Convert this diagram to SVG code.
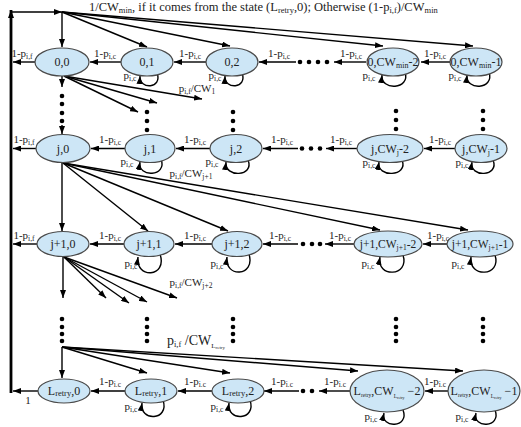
<svg xmlns="http://www.w3.org/2000/svg" width="521" height="427" viewBox="0 0 521 427">
<defs>
<marker id="a" viewBox="0 0 8 6" refX="8" refY="3" markerWidth="8" markerHeight="6" markerUnits="userSpaceOnUse" orient="auto"><path d="M0,0 L8,3 L0,6 z" fill="#000"/></marker>
<style>
.n{fill:#cde6f6;stroke:#4a4a4a;stroke-width:1.2}
.t{font-family:"Liberation Serif",serif;font-size:12px;fill:#222;text-anchor:middle}
.l{font-family:"Liberation Serif",serif;font-size:11px;fill:#222;text-anchor:middle}
.e{fill:none;stroke:#000;stroke-width:1.4;marker-end:url(#a)}
.s{fill:none;stroke:#000;stroke-width:1.4;marker-end:url(#a)}
.d{fill:#000}
</style>
</defs>
<rect width="521" height="427" fill="#fff"/>
<text class="l" x="89" y="11" style="text-anchor:start;font-size:12.5px">1/CW<tspan font-size="8.5" dy="2">min</tspan><tspan dy="-2">, if it comes from the state (L</tspan><tspan font-size="8.5" dy="2">retry</tspan><tspan dy="-2">,0); Otherwise (1-p</tspan><tspan font-size="8.5" dy="2">i,f</tspan><tspan dy="-2">)/CW</tspan><tspan font-size="8.5" dy="2">min</tspan></text>

<g id="connectors">
<path d="M11,393 L11,10" fill="none" stroke="#000" stroke-width="2.8" marker-end="url(#a)"/>
<path class="e" d="M11,12 L62,12"/>
<path class="e" d="M62,12 L62,47"/>
<path class="e" d="M62,12 L147,47"/>
<path class="e" d="M62,12 L230,46"/>
<path class="e" d="M62,12 L383,46"/>
<path class="e" d="M62,12 L473,46"/>
<path class="e" d="M35,62 L13,62"/>
<path class="e" d="M121,62 L90,62"/>
<path class="e" d="M206,62 L174,62"/>
<path class="e" d="M296,62 L259,62"/>
<path class="e" d="M366,62 L334,62"/>
<path class="e" d="M450,62 L421,62"/>
<path class="s" d="M157,73 C163,89 139,90 140,76"/>
<path class="s" d="M242,73 C248,89 224,90 225,76"/>
<path class="s" d="M405,72 C411,90 380,91 382,75"/>
<path class="s" d="M489,72 C495,90 465,91 467,75"/>
<path class="e" d="M62,76 L62,87"/>
<path class="e" d="M62,125 L62,134"/>
<path class="e" d="M64,76 L138,112"/>
<path class="e" d="M64,76 L157,103"/>
<path class="e" d="M64,76 L202,99"/>
<path class="e" d="M36,148.5 L13,148.5"/>
<path class="e" d="M125,148.5 L91,148.5"/>
<path class="e" d="M210,148.5 L176,148.5"/>
<path class="e" d="M298,148.5 L263,148.5"/>
<path class="e" d="M357,148.5 L326,148.5"/>
<path class="e" d="M455,148.5 L424,148.5"/>
<path class="s" d="M161,159 C168,177 137,178 140,162"/>
<path class="s" d="M248,160 C255,177 224,178 226,162"/>
<path class="s" d="M402,160 C409,177 376,178 379,162"/>
<path class="s" d="M493,160 C500,177 469,178 472,162"/>
<path class="e" d="M62,163 L62,231"/>
<path class="e" d="M63,163 L148,231"/>
<path class="e" d="M63,163 L228,231"/>
<path class="e" d="M63,163 L380,230"/>
<path class="e" d="M63,163 L468,230"/>
<path class="e" d="M37,244 L13,244"/>
<path class="e" d="M124,244 L90,244"/>
<path class="e" d="M212,244 L175,244"/>
<path class="e" d="M298,244 L263,244"/>
<path class="e" d="M354,244 L325,244"/>
<path class="e" d="M447,244 L423,244"/>
<path class="s" d="M160,254 C168,278 135,279 138,257"/>
<path class="s" d="M249,254 C256,277 224,278 227,257"/>
<path class="s" d="M403,255 C410,277 376,278 380,257"/>
<path class="s" d="M495,255 C502,277 468,278 471,257"/>
<path class="e" d="M63,257 L63,298"/>
<path class="e" d="M64,257 L106,298"/>
<path class="e" d="M64,257 L129,303"/>
<path class="e" d="M64,257 L147,302"/>
<path class="e" d="M64,257 L177,298"/>
<path class="e" d="M62,347 L62,378"/>
<path class="e" d="M62,347 L147,373"/>
<path class="e" d="M62,347 L230,373"/>
<path class="e" d="M62,347 L358,371"/>
<path class="e" d="M62,347 L463,371"/>
<path class="e" d="M38,391 L13,391"/>
<path class="e" d="M125,391 L91,391"/>
<path class="e" d="M212,391 L178,391"/>
<path class="e" d="M299,391 L264,391"/>
<path class="e" d="M350,391 L319,391"/>
<path class="e" d="M448,391 L425,391"/>
<path class="s" d="M163,400 C170,421 139,422 142,403"/>
<path class="s" d="M250,400 C257,421 226,422 229,403"/>
<path class="s" d="M403,410 C410,428 380,429 384,413"/>
<path class="s" d="M495,410 C502,428 472,429 476,413"/>
</g>

<g id="dots">
<circle class="d" cx="300" cy="62" r="2.3"/><circle class="d" cx="309" cy="62" r="2.3"/><circle class="d" cx="318" cy="62" r="2.3"/><circle class="d" cx="327" cy="62" r="2.3"/>
<circle class="d" cx="62" cy="96" r="2.3"/><circle class="d" cx="62" cy="104" r="2.3"/><circle class="d" cx="62" cy="113" r="2.3"/><circle class="d" cx="62" cy="121" r="2.3"/>
<circle class="d" cx="147" cy="112" r="2.3"/><circle class="d" cx="147" cy="121" r="2.3"/><circle class="d" cx="147" cy="130" r="2.3"/>
<circle class="d" cx="233" cy="112" r="2.3"/><circle class="d" cx="233" cy="121" r="2.3"/><circle class="d" cx="233" cy="130" r="2.3"/>
<circle class="d" cx="396" cy="111" r="2.3"/><circle class="d" cx="396" cy="120" r="2.3"/><circle class="d" cx="396" cy="129" r="2.3"/>
<circle class="d" cx="483" cy="111" r="2.3"/><circle class="d" cx="483" cy="120" r="2.3"/><circle class="d" cx="483" cy="129" r="2.3"/>
<circle class="d" cx="302" cy="148.5" r="2.3"/><circle class="d" cx="311" cy="148.5" r="2.3"/><circle class="d" cx="320" cy="148.5" r="2.3"/>
<circle class="d" cx="303" cy="244" r="2.3"/><circle class="d" cx="312" cy="244" r="2.3"/><circle class="d" cx="320" cy="244" r="2.3"/>
<circle class="d" cx="62" cy="319" r="2.3"/><circle class="d" cx="62" cy="327" r="2.3"/><circle class="d" cx="62" cy="334" r="2.3"/><circle class="d" cx="62" cy="341" r="2.3"/>
<circle class="d" cx="147" cy="319" r="2.3"/><circle class="d" cx="147" cy="327" r="2.3"/><circle class="d" cx="147" cy="334" r="2.3"/><circle class="d" cx="147" cy="341" r="2.3"/>
<circle class="d" cx="233" cy="319" r="2.3"/><circle class="d" cx="233" cy="327" r="2.3"/><circle class="d" cx="233" cy="334" r="2.3"/><circle class="d" cx="233" cy="341" r="2.3"/>
<circle class="d" cx="396" cy="319" r="2.3"/><circle class="d" cx="396" cy="327" r="2.3"/><circle class="d" cx="396" cy="334" r="2.3"/><circle class="d" cx="396" cy="341" r="2.3"/>
<circle class="d" cx="483" cy="319" r="2.3"/><circle class="d" cx="483" cy="327" r="2.3"/><circle class="d" cx="483" cy="334" r="2.3"/><circle class="d" cx="483" cy="341" r="2.3"/>
<circle class="d" cx="303" cy="391" r="2.3"/><circle class="d" cx="312" cy="391" r="2.3"/>
</g>

<g id="labels">
<text class="l" x="22" y="57">1-p<tspan font-size="7.5" dy="2">i,f</tspan></text>
<text class="l" x="105" y="57">1-p<tspan font-size="7.5" dy="2">i,c</tspan></text>
<text class="l" x="190" y="57">1-p<tspan font-size="7.5" dy="2">i,c</tspan></text>
<text class="l" x="279" y="57">1-p<tspan font-size="7.5" dy="2">i,c</tspan></text>
<text class="l" x="351" y="57">1-p<tspan font-size="7.5" dy="2">i,c</tspan></text>
<text class="l" x="435" y="57">1-p<tspan font-size="7.5" dy="2">i,c</tspan></text>
<text class="l" x="130" y="79">p<tspan font-size="7.5" dy="2">i,c</tspan></text>
<text class="l" x="215" y="79">p<tspan font-size="7.5" dy="2">i,c</tspan></text>
<text class="l" x="369" y="79">p<tspan font-size="7.5" dy="2">i,c</tspan></text>
<text class="l" x="455" y="79">p<tspan font-size="7.5" dy="2">i,c</tspan></text>
<text class="l" x="197" y="92">p<tspan font-size="7.5" dy="2">i,f</tspan><tspan dy="-2">/CW</tspan><tspan font-size="7.5" dy="2">1</tspan></text>
<text class="l" x="24" y="143">1-p<tspan font-size="7.5" dy="2">i,f</tspan></text>
<text class="l" x="110" y="143">1-p<tspan font-size="7.5" dy="2">i,c</tspan></text>
<text class="l" x="195" y="143">1-p<tspan font-size="7.5" dy="2">i,c</tspan></text>
<text class="l" x="282" y="143">1-p<tspan font-size="7.5" dy="2">i,c</tspan></text>
<text class="l" x="341" y="143">1-p<tspan font-size="7.5" dy="2">i,c</tspan></text>
<text class="l" x="440" y="143">1-p<tspan font-size="7.5" dy="2">i,c</tspan></text>
<text class="l" x="127" y="165">p<tspan font-size="7.5" dy="2">i,c</tspan></text>
<text class="l" x="212" y="165">p<tspan font-size="7.5" dy="2">i,c</tspan></text>
<text class="l" x="369" y="166">p<tspan font-size="7.5" dy="2">i,c</tspan></text>
<text class="l" x="462" y="166">p<tspan font-size="7.5" dy="2">i,c</tspan></text>
<text class="l" x="191" y="177">p<tspan font-size="7.5" dy="2">i,f</tspan><tspan dy="-2">/CW</tspan><tspan font-size="7.5" dy="2">j+1</tspan></text>
<text class="l" x="24" y="239">1-p<tspan font-size="7.5" dy="2">i,f</tspan></text>
<text class="l" x="110" y="239">1-p<tspan font-size="7.5" dy="2">i,c</tspan></text>
<text class="l" x="195" y="239">1-p<tspan font-size="7.5" dy="2">i,c</tspan></text>
<text class="l" x="280" y="239">1-p<tspan font-size="7.5" dy="2">i,c</tspan></text>
<text class="l" x="340" y="239">1-p<tspan font-size="7.5" dy="2">i,c</tspan></text>
<text class="l" x="438" y="239">1-p<tspan font-size="7.5" dy="2">i,c</tspan></text>
<text class="l" x="131" y="267">p<tspan font-size="7.5" dy="2">i,c</tspan></text>
<text class="l" x="217" y="267">p<tspan font-size="7.5" dy="2">i,c</tspan></text>
<text class="l" x="368" y="267">p<tspan font-size="7.5" dy="2">i,c</tspan></text>
<text class="l" x="458" y="267">p<tspan font-size="7.5" dy="2">i,c</tspan></text>
<text class="l" x="191" y="286">p<tspan font-size="7.5" dy="2">i,f</tspan><tspan dy="-2">/CW</tspan><tspan font-size="7.5" dy="2">j+2</tspan></text>
<text class="l" x="196" y="345" style="font-size:14px">p<tspan font-size="8.5" dy="2">i,f</tspan><tspan dy="-2"> /CW</tspan><tspan font-size="7" dy="3">L</tspan><tspan font-size="5" dy="1">retry</tspan></text>
<text class="l" x="28" y="404">1</text>
<text class="l" x="110" y="385">1-p<tspan font-size="7.5" dy="2">i.c</tspan></text>
<text class="l" x="195" y="385">1-p<tspan font-size="7.5" dy="2">i.c</tspan></text>
<text class="l" x="282" y="385">1-p<tspan font-size="7.5" dy="2">i.c</tspan></text>
<text class="l" x="335" y="385">1-p<tspan font-size="7.5" dy="2">i.c</tspan></text>
<text class="l" x="435" y="385">1-p<tspan font-size="7.5" dy="2">i.c</tspan></text>
<text class="l" x="131" y="410">p<tspan font-size="7.5" dy="2">i,c</tspan></text>
<text class="l" x="217" y="410">p<tspan font-size="7.5" dy="2">i,c</tspan></text>
<text class="l" x="371" y="420">p<tspan font-size="7.5" dy="2">i,c</tspan></text>
<text class="l" x="462" y="420">p<tspan font-size="7.5" dy="2">i,c</tspan></text>
</g>

<g id="n0_0"><ellipse class="n" cx="62" cy="62" rx="27" ry="14"/><text class="t" x="62" y="66">0,0</text></g>
<g id="n0_1"><ellipse class="n" cx="147" cy="62" rx="26" ry="14"/><text class="t" x="147" y="66">0,1</text></g>
<g id="n0_2"><ellipse class="n" cx="232" cy="62" rx="26" ry="14"/><text class="t" x="232" y="66">0,2</text></g>
<g id="n0_cm2"><ellipse class="n" cx="393" cy="62" rx="26" ry="14"/><text class="t" x="393" y="66">0,CW<tspan font-size="8" dy="2">min</tspan><tspan dy="-2">-2</tspan></text></g>
<g id="n0_cm1"><ellipse class="n" cx="476" cy="62" rx="26" ry="14"/><text class="t" x="476" y="66">0,CW<tspan font-size="8" dy="2">min</tspan><tspan dy="-2">-1</tspan></text></g>

<g id="nj_0"><ellipse class="n" cx="63" cy="148.5" rx="27" ry="14"/><text class="t" x="63" y="152.5">j,0</text></g>
<g id="nj_1"><ellipse class="n" cx="150" cy="148.5" rx="25" ry="14"/><text class="t" x="150" y="152.5">j,1</text></g>
<g id="nj_2"><ellipse class="n" cx="236" cy="148.5" rx="26" ry="14"/><text class="t" x="236" y="152.5">j,2</text></g>
<g id="nj_cm2"><ellipse class="n" cx="390" cy="148.5" rx="33" ry="14"/><text class="t" x="390" y="152.5">j,CW<tspan font-size="8" dy="2">j</tspan><tspan dy="-2">-2</tspan></text></g>
<g id="nj_cm1"><ellipse class="n" cx="481" cy="148.5" rx="26" ry="14"/><text class="t" x="481" y="152.5">j,CW<tspan font-size="8" dy="2">j</tspan><tspan dy="-2">-1</tspan></text></g>

<g id="nk_0"><ellipse class="n" cx="63" cy="244" rx="26" ry="12.5"/><text class="t" x="63" y="248">j+1,0</text></g>
<g id="nk_1"><ellipse class="n" cx="149" cy="244" rx="25" ry="12.5"/><text class="t" x="149" y="248">j+1,1</text></g>
<g id="nk_2"><ellipse class="n" cx="237" cy="244" rx="25" ry="12.5"/><text class="t" x="237" y="248">j+1,2</text></g>
<g id="nk_cm2"><ellipse class="n" cx="388" cy="244" rx="34" ry="13"/><text class="t" x="388" y="248" style="font-size:11.5px">j+1,CW<tspan font-size="7.5" dy="2">j+1</tspan><tspan dy="-2">-2</tspan></text></g>
<g id="nk_cm1"><ellipse class="n" cx="480" cy="244" rx="33" ry="13"/><text class="t" x="480" y="248" style="font-size:11.5px">j+1,CW<tspan font-size="7.5" dy="2">j+1</tspan><tspan dy="-2">-1</tspan></text></g>

<g id="nL_0"><ellipse class="n" cx="64" cy="391" rx="26" ry="12"/><text class="t" x="64" y="395">L<tspan font-size="8.5" dy="1">retry</tspan><tspan dy="-1">,0</tspan></text></g>
<g id="nL_1"><ellipse class="n" cx="151" cy="391" rx="26" ry="12"/><text class="t" x="151" y="395">L<tspan font-size="8.5" dy="1">retry</tspan><tspan dy="-1">,1</tspan></text></g>
<g id="nL_2"><ellipse class="n" cx="238" cy="391" rx="26" ry="12"/><text class="t" x="238" y="395">L<tspan font-size="8.5" dy="1">retry</tspan><tspan dy="-1">,2</tspan></text></g>
<g id="nL_cm2"><ellipse class="n" cx="387" cy="391" rx="37" ry="21"/><text class="t" x="387" y="395">L<tspan font-size="5.5" dy="2">retry</tspan><tspan dy="-2">,CW</tspan><tspan font-size="5.5" dy="3">L</tspan><tspan font-size="4" dy="1">retry</tspan><tspan dy="-4">&#160;−2</tspan></text></g>
<g id="nL_cm1"><ellipse class="n" cx="484" cy="391" rx="36" ry="21"/><text class="t" x="484" y="395">L<tspan font-size="5.5" dy="2">retry</tspan><tspan dy="-2">,CW</tspan><tspan font-size="5.5" dy="3">L</tspan><tspan font-size="4" dy="1">retry</tspan><tspan dy="-4">&#160;−1</tspan></text></g>
</svg>
